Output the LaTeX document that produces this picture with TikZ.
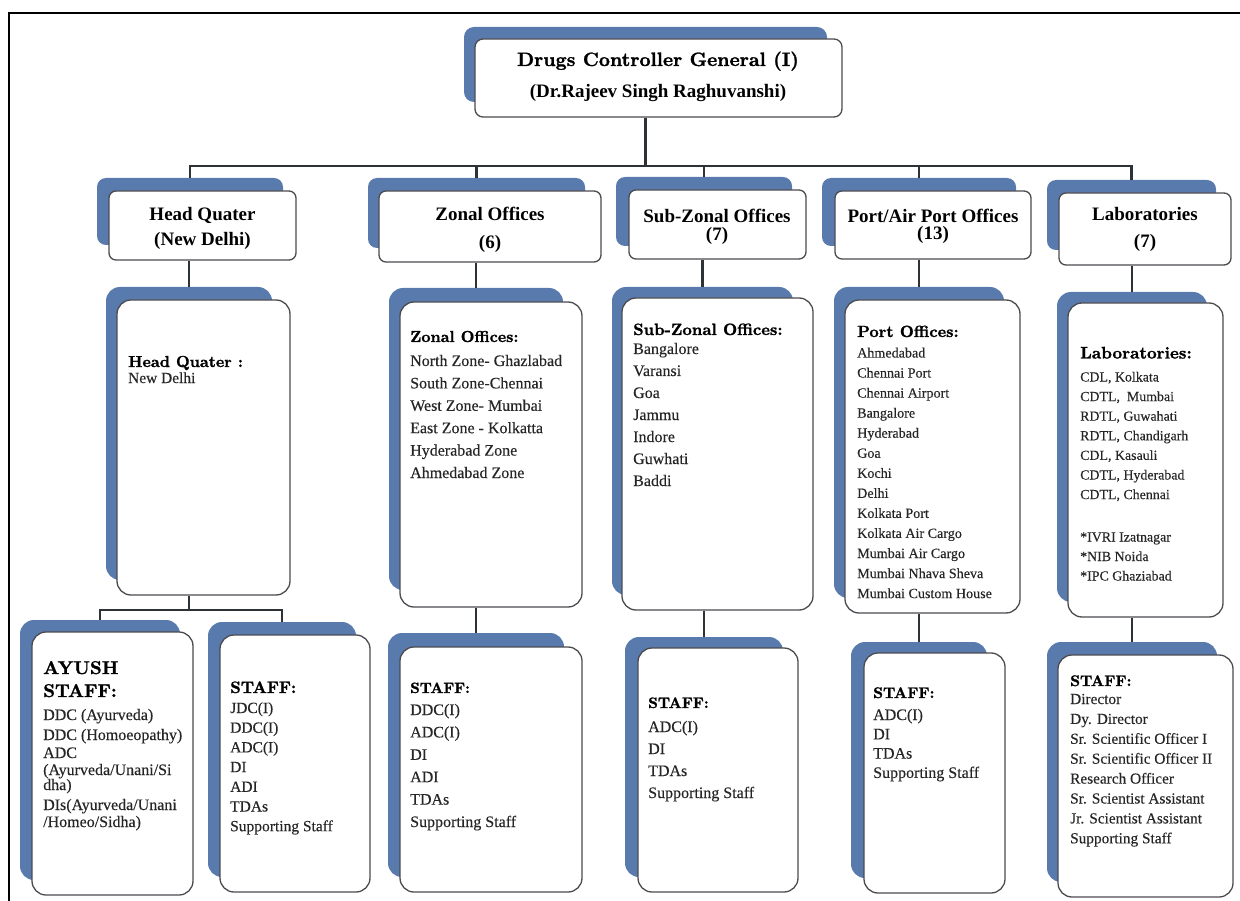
\documentclass[tikz,border=0pt]{standalone}
\usepackage{fontspec}
\newfontfamily\tnr{Liberation Serif}
\newfontfamily\bodyf{Liberation Serif}[FakeBold=0.25]
\newfontfamily\lmbf{lmroman10-bold.otf}[FakeBold=1.3]
\usetikzlibrary{fit}
\definecolor{sblue}{RGB}{88,122,172}
\definecolor{bgray}{RGB}{75,75,80}
\definecolor{lineC}{RGB}{45,50,55}
\definecolor{txt}{RGB}{38,38,38}
\begin{document}
\begin{tikzpicture}[x=1pt,y=-1pt,
  bsh/.style={fill=sblue, draw=none, rounded corners=#1, inner sep=0pt},
  bsh/.default=14,
  wb/.style={fill=white, draw=bgray, line width=1.3pt, rounded corners=#1, inner sep=0pt},
  wb/.default=14,
  conn/.style={draw=lineC, line width=2.5pt},
  tone/.style={font=\lmbf\fontsize{19.3}{22}\selectfont, anchor=base, inner sep=0pt},
  ttwo/.style={font=\tnr\bfseries\fontsize{19}{22}\selectfont, anchor=base, inner sep=0pt},
  hd/.style={font=\tnr\bfseries\fontsize{19}{22}\selectfont, anchor=base, inner sep=0pt},
  bh/.style={font=\lmbf\fontsize{#1}{18}\selectfont, anchor=base west, inner sep=0pt},
  bh/.default=16,
  body/.style={font=\bodyf\fontsize{#1}{18}\selectfont, anchor=base west, inner sep=0pt, text=txt},
  body/.default=16,
]
\useasboundingbox (0,0) rectangle (1240,901);
% frame
\draw[line width=2.4pt, black] (9,901) -- (9,13) -- (1240,13);

% ---------- top ----------
\node[bsh=10, fit={(464,27)(827,102)}] (topb) {};
\node[wb=8, fit={(475,39)(842,117)}] (top) {};
\node[tone] (topl1) at (658,66) {Drugs Controller General (I)};
\node[ttwo] (topl2) at (658,98) {(Dr.Rajeev Singh Raghuvanshi)};

% ---------- headers ----------
\node[bsh=9, fit={(97,178)(283,245)}] (hqb) {};
\node[wb=7, fit={(109,191)(296,260)}] (hq) {};
\node[hd] (hqa) at (202.5,221) {Head Quater};
\node[hd] (hqc) at (202.5,246) {(New Delhi)};

\node[bsh=9, fit={(368,178)(585,248)}] (zob) {};
\node[wb=7, fit={(379,191)(601,262)}] (zo) {};
\node[hd] (zoa) at (490,221) {Zonal Offices};
\node[hd] (zoc) at (490,249) {(6)};

\node[bsh=9, fit={(616,177)(792,246)}] (sub) {};
\node[wb=7, fit={(629,190)(806,259)}] (su) {};
\node[hd] (sua) at (717,223) {Sub-Zonal Offices};
\node[hd] (suc) at (717,241) {(7)};

\node[bsh=9, fit={(822,178)(1016,246)}] (pob) {};
\node[wb=7, fit={(835,191)(1031,259)}] (po) {};
\node[hd] (poa) at (933,223) {Port/Air Port Offices};
\node[hd] (poc) at (933,240) {(13)};

\node[bsh=9, fit={(1047,180)(1216,250)}] (lab) {};
\node[wb=7, fit={(1059,193)(1231,265)}] (la) {};
\node[hd] (laa) at (1145,221) {Laboratories};
\node[hd] (lac) at (1145,248) {(7)};

% ---------- middle ----------
\node[bsh, fit={(106,287)(272,580)}] (hqmb) {};
\node[wb, fit={(117,300)(290,595)}] (hqm) {};
\node[bh=15.9] (hqmh) at (128,367) {Head Quater :};
\node[body=15.4] (hqm1) at (128,383) {New Delhi};

\node[bsh, fit={(389,288)(563,590)}] (zomb) {};
\node[wb, fit={(400,302)(582,607)}] (zom) {};
\node[bh=15.9] (zomh) at (410,342) {Zonal Offices:};
\foreach \t [count=\i from 0] in {North Zone- Ghazlabad, South Zone-Chennai, West Zone- Mumbai, East Zone - Kolkatta, Hyderabad Zone, Ahmedabad Zone}
  \node[body] (zol\i) at (410,366+22.4*\i) {\t};

\node[bsh, fit={(612,287)(793,595)}] (sumb) {};
\node[wb, fit={(622,298)(813,610)}] (sum) {};
\node[bh=16.4] (sumh) at (633,335) {Sub-Zonal Offices:};
\foreach \t [count=\i from 0] in {Bangalore, Varansi, Goa, Jammu, Indore, Guwhati, Baddi}
  \node[body] (sul\i) at (633,354+22*\i) {\t};

\node[bsh, fit={(834,287)(1004,598)}] (pomb) {};
\node[wb, fit={(845,300)(1020,613)}] (pom) {};
\node[bh=16.2] (pomh) at (857,337) {Port Offices:};
\foreach \t [count=\i from 0] in {Ahmedabad, Chennai Port, Chennai Airport, Bangalore, Hyderabad, Goa, Kochi, Delhi, Kolkata Port, Kolkata Air Cargo, Mumbai Air Cargo, Mumbai Nhava Sheva, Mumbai Custom House}
  \node[body=14.1] (pol\i) at (857,357.5+20.05*\i) {\t};

\node[bsh, fit={(1057,292)(1207,602)}] (lamb) {};
\node[wb, fit={(1068,303)(1223,617)}] (lam) {};
\node[bh=16.8] (lamh) at (1080,358.5) {Laboratories:};
\foreach \t [count=\i from 0] in {{CDL, Kolkata}, {CDTL,\ \ Mumbai}, {RDTL, Guwahati}, {RDTL, Chandigarh}, {CDL, Kasauli}, {CDTL, Hyderabad}, {CDTL, Chennai}}
  \node[body=13.9] (lal\i) at (1080,381.5+19.6*\i) {\t};
\foreach \t [count=\i from 0] in {*IVRI Izatnagar, *NIB Noida, *IPC Ghaziabad}
  \node[body=13.9] (lax\i) at (1080,541.5+19.5*\i) {\t};

% ---------- bottom ----------
\node[bsh, fit={(20,620)(180,880)}] (ayb) {};
\node[wb, fit={(32,632)(193,895)}] (ay) {};
\node[bh=18.5] (aya) at (43,674) {AYUSH};
\node[bh=18.5] (ays) at (43,697) {STAFF:};
\node[body] (ay1) at (43,720) {DDC (Ayurveda)};
\node[body] (ay2) at (43,740) {DDC (Homoeopathy)};
\node[body] (ay3) at (43,758) {ADC};
\node[body] (ay4) at (43,775) {(Ayurveda/Unani/Si};
\node[body] (ay5) at (43,790) {dha)};
\node[body] (ay6) at (43,810) {DIs(Ayurveda/Unani};
\node[body] (ay7) at (43,827) {/Homeo/Sidha)};

\node[bsh, fit={(208,622)(356,877)}] (hsb) {};
\node[wb, fit={(220,635)(370,892)}] (hs) {};
\node[bh=16.6] (hsh) at (230,693) {STAFF:};
\foreach \t [count=\i from 0] in {JDC(I), DDC(I), ADC(I), DI, ADI, TDAs, Supporting Staff}
  \node[body=15.5] (hsl\i) at (230,713+19.7*\i) {\t};

\node[bsh, fit={(388,633)(564,877)}] (zsb) {};
\node[wb, fit={(400,647)(582,892)}] (zs) {};
\node[bh=15] (zsh) at (410,693) {STAFF:};
\foreach \t [count=\i from 0] in {DDC(I), ADC(I), DI, ADI, TDAs, Supporting Staff}
  \node[body] (zsl\i) at (410,715+22.4*\i) {\t};

\node[bsh, fit={(625,637)(783,877)}] (ssb) {};
\node[wb, fit={(638,648)(798,892)}] (ss) {};
\node[bh=15.2] (ssh) at (648,708) {STAFF:};
\foreach \t [count=\i from 0] in {ADC(I), DI, TDAs, Supporting Staff}
  \node[body] (ssl\i) at (648,732+22*\i) {\t};

\node[bsh, fit={(851,642)(987,878)}] (psb) {};
\node[wb, fit={(864,653)(1005,893)}] (ps) {};
\node[bh=15.4] (psh) at (873,698) {STAFF:};
\foreach \t [count=\i from 0] in {ADC(I), DI, TDAs, Supporting Staff}
  \node[body] (psl\i) at (873,720+19.3*\i) {\t};

\node[bsh, fit={(1047,642)(1217,882)}] (lsb) {};
\node[wb, fit={(1058,655)(1233,897)}] (ls) {};
\node[bh=15.4] (lsh) at (1070,686) {STAFF:};
\foreach \t [count=\i from 0] in {Director, Dy. Director, Sr. Scientific Officer I, Sr. Scientific Officer II, Research Officer, Sr. Scientist Assistant, Jr. Scientist Assistant, Supporting Staff}
  \node[body=15.3] (lsl\i) at (1070,704+19.9*\i) {\t};

% ---------- connectors ----------
\coordinate (bus) at (0,166);
\coordinate (hqbr) at (0,610);
\draw[conn] (topb.center |- top.south) -- (topb.center |- bus);
\draw[conn] (hqb.north) -- (hqb.north |- bus) -- (lab.north |- bus) -- (lab.north);
\foreach \n in {zob,sub,pob}
  \draw[conn] (\n.north |- bus) -- (\n.north);
\foreach \m/\h in {hqmb/hq, zomb/zo, sumb/su, pomb/po, lamb/la}
  \draw[conn] (\m.north |- \h.south) -- (\m.north);
\foreach \m/\h in {zsb/zom, ssb/sum, psb/pom, lsb/lam}
  \draw[conn] (\m.north |- \h.south) -- (\m.north);
\draw[conn] (hqmb.center |- hqm.south) -- (hqmb.center |- hqbr);
\draw[conn] (ayb.north) -- (ayb.north |- hqbr) -- (hsb.north |- hqbr) -- (hsb.north);
\end{tikzpicture}
\end{document}
